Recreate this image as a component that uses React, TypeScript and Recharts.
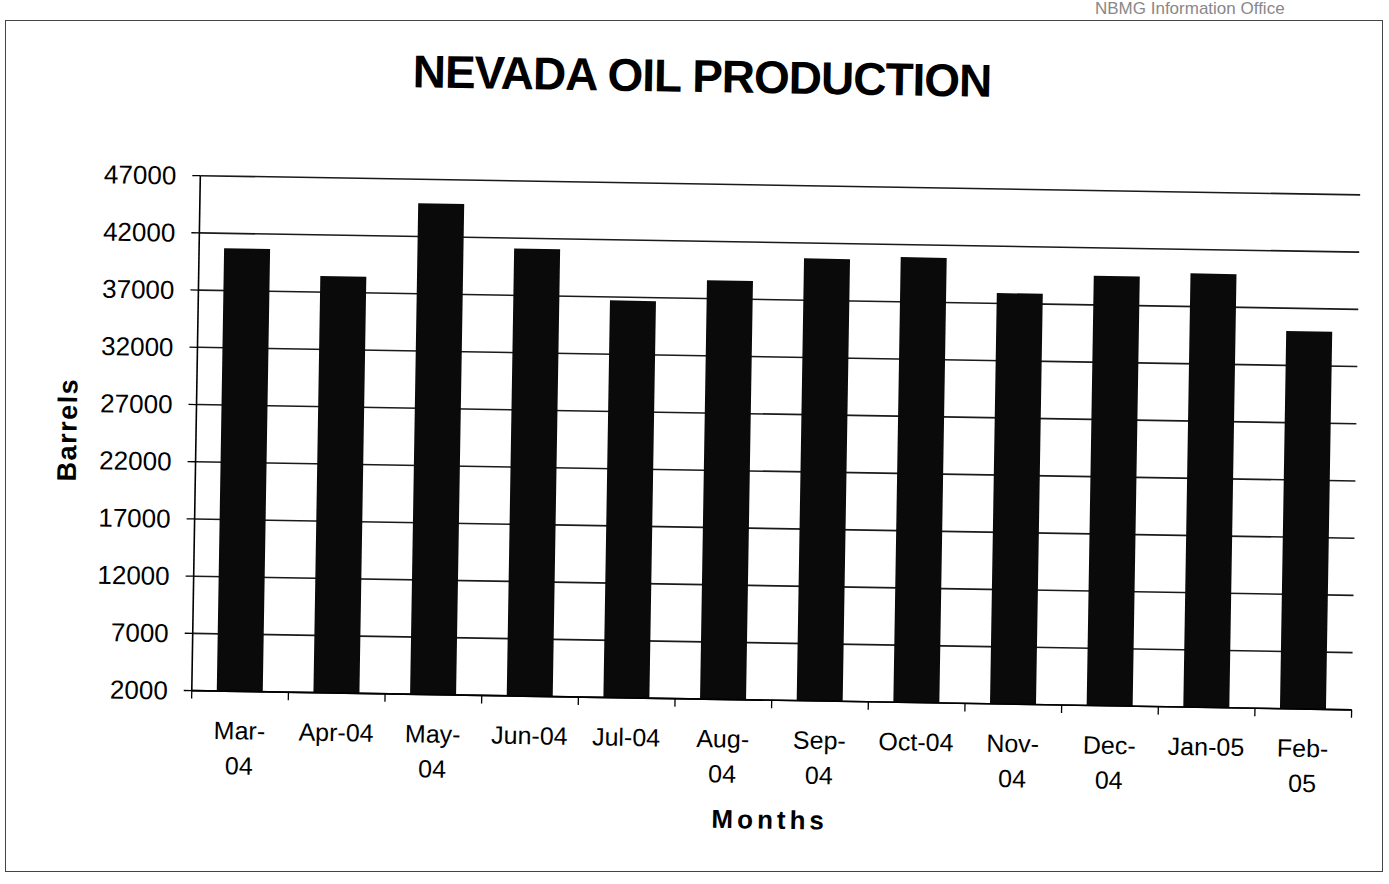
import React from 'react';
import { BarChart, Bar, XAxis, YAxis, CartesianGrid } from 'recharts';

// Monthly Nevada oil production (barrels)
const months = ['Mar-04', 'Apr-04', 'May-04', 'Jun-04', 'Jul-04', 'Aug-04', 'Sep-04', 'Oct-04', 'Nov-04', 'Dec-04', 'Jan-05', 'Feb-05'];
const barrels = [40700, 38400, 44900, 41100, 36700, 38600, 40650, 40900, 37900, 39550, 39900, 35000];

// how each month label wraps in the original
const tickLines = [
  ['Mar-', '04'],
  ['Apr-04'],
  ['May-', '04'],
  ['Jun-04'],
  ['Jul-04'],
  ['Aug-', '04'],
  ['Sep-', '04'],
  ['Oct-04'],
  ['Nov-', '04'],
  ['Dec-', '04'],
  ['Jan-05'],
  ['Feb-', '05'],
];

const yTicks = [2000, 7000, 12000, 17000, 22000, 27000, 32000, 37000, 42000, 47000];

const data = months.map((m, i) => ({ month: m, barrels: barrels[i] }));

const FONT = '"Liberation Sans", Arial, Helvetica, sans-serif';
const W = 1389;
const H = 884;
const margin = { top: 184, right: 33, left: 96, bottom: 85 };
const Y_AXIS_W = 100;
const PLOT_W = W - margin.left - margin.right - Y_AXIS_W;
const STEP = PLOT_W / months.length;

const MonthTick = (props: any) => {
  const { x, y, payload } = props;
  const idx = payload?.index ?? props.index ?? 0;
  const lines = tickLines[idx] || [payload.value];
  const left = x - STEP / 2;
  return (
    <g>
      <line x1={left} x2={left} y1={y} y2={y + 8} stroke="#000" strokeWidth={1.3} />
      {idx === months.length - 1 && (
        <line x1={x + STEP / 2} x2={x + STEP / 2} y1={y} y2={y + 8} stroke="#000" strokeWidth={1.3} />
      )}
      <text x={x} y={y + 48} textAnchor="middle" fontSize={25} fontFamily={FONT} fill="#000">
        {lines.map((l: string, i: number) => (
          <tspan key={i} x={x} dy={i === 0 ? 0 : 35}>
            {l}
          </tspan>
        ))}
      </text>
    </g>
  );
};

export default function App() {
  return (
    <div style={{ position: 'absolute', left: 0, top: 0, width: W, height: H, background: '#fff', overflow: 'hidden', fontFamily: FONT }}>
      <div
        style={{
          position: 'absolute',
          left: 1095,
          top: 0,
          fontSize: 17,
          lineHeight: '17px',
          color: '#888',
          whiteSpace: 'nowrap',
        }}
      >
        NBMG Information Office
      </div>
      <div
        style={{
          position: 'absolute',
          left: 5,
          top: 20,
          width: 1376,
          height: 850,
          border: '1.5px solid #444',
        }}
      />
      <div
        style={{
          position: 'absolute',
          left: 0,
          top: 0,
          width: W,
          height: H,
          transform: 'rotate(0.95deg)',
          transformOrigin: '700px 440px',
        }}
      >
        <div
          style={{
            position: 'absolute',
            left: 0,
            top: 53,
            width: 1392,
            textAlign: 'center',
            fontSize: 46,
            lineHeight: '46px',
            fontWeight: 'bold',
            letterSpacing: -1,
            color: '#000',
          }}
        >
          NEVADA OIL PRODUCTION
        </div>
        <div
          style={{
            position: 'absolute',
            left: 68,
            top: 440,
            transform: 'translate(-50%, -50%) rotate(-90deg)',
            fontSize: 27,
            fontWeight: 'bold',
            letterSpacing: 1.5,
            whiteSpace: 'nowrap',
            color: '#000',
          }}
        >
          Barrels
        </div>
        <div
          style={{
            position: 'absolute',
            left: 776,
            top: 819,
            transform: 'translate(-50%, -50%)',
            fontSize: 26,
            fontWeight: 'bold',
            letterSpacing: 4,
            whiteSpace: 'nowrap',
            color: '#000',
          }}
        >
          Months
        </div>
        <BarChart width={W} height={H} data={data} margin={margin} barCategoryGap={0}>
          <CartesianGrid vertical={false} stroke="#1a1a1a" strokeWidth={1.6} />
          <XAxis
            dataKey="month"
            interval={0}
            height={100}
            tickSize={0}
            tickMargin={0}
            tickLine={false}
            axisLine={{ stroke: '#000', strokeWidth: 1.6 }}
            tick={<MonthTick />}
          />
          <YAxis
            width={Y_AXIS_W}
            domain={[2000, 47000]}
            ticks={yTicks}
            interval={0}
            allowDataOverflow
            tickSize={8}
            tickMargin={16}
            axisLine={{ stroke: '#000', strokeWidth: 1.6 }}
            tickLine={{ stroke: '#000', strokeWidth: 1.3 }}
            tick={{ fontSize: 26, fill: '#000', fontFamily: FONT }}
          />
          <Bar dataKey="barrels" fill="#0a0a0a" barSize={46} isAnimationActive={false} />
        </BarChart>
      </div>
    </div>
  );
}
